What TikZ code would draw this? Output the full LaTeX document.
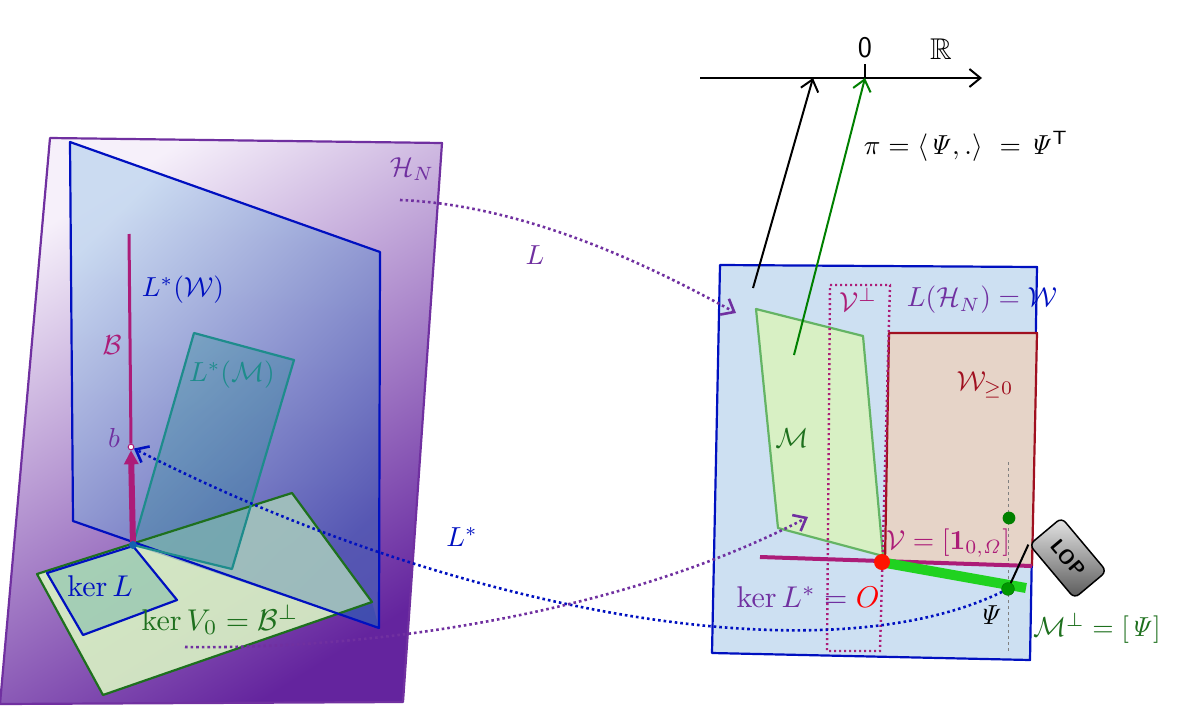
\documentclass[tikz,border=0pt]{standalone}
\usepackage{amssymb}
\usetikzlibrary{arrows.meta}
\definecolor{hpurple}{RGB}{112,48,160}
\definecolor{hlight}{RGB}{246,240,250}
\definecolor{hmid}{RGB}{206,184,224}
\definecolor{hdark}{RGB}{100,36,158}
\definecolor{wblue}{RGB}{0,16,192}
\definecolor{bmag}{RGB}{172,28,120}
\definecolor{mteal}{RGB}{30,140,140}
\definecolor{kgreen}{RGB}{30,112,30}
\definecolor{wred}{RGB}{160,16,32}
\definecolor{wfill}{RGB}{205,224,242}
\definecolor{wrfill}{RGB}{230,212,200}
\definecolor{mfill}{RGB}{216,240,196}
\definecolor{medge}{RGB}{100,180,100}
\definecolor{lopgreen}{RGB}{32,210,32}
\begin{document}
\begin{tikzpicture}[x=1pt,y=-1pt,>={Straight Barb[length=11pt,width=18pt]},
  lbl/.style={scale=2.75,inner sep=0.4pt},
  biglbl/.style={scale=3.0,inner sep=0.4pt},
  edge/.style={line width=2.2pt,line join=round},
  dotline/.style={line width=2.6pt,dash pattern=on 2.6pt off 3pt}]
\useasboundingbox (0,0) rectangle (1200,718);

% left: H_N and its subspaces
\shade[top color=hlight,middle color=hmid,bottom color=hdark,shading angle=32] (50,138) -- (442,143) -- (403,702) -- (0,704) -- cycle;
\draw[hpurple,edge] (50,138) -- (442,143) -- (403,702) -- (0,704) -- cycle;
\shade[top color={rgb,255:red,196;green,216;blue,240},bottom color={rgb,255:red,80;green,90;blue,180},shading angle=45,opacity=0.85]
  (70,142) -- (380,252) -- (379,628) -- (73,521) -- cycle;
\fill[mfill,opacity=0.92] (37,574) -- (292,493) -- (372,602) -- (103,695) -- cycle;
\fill[mteal,opacity=0.3] (194,333) -- (294,360) -- (232,569) -- (133,545) -- cycle;
\fill[wblue!60!mteal,opacity=0.25] (133,545) -- (292,493) -- (372,602) -- (379,628) -- cycle;
\draw[kgreen,edge] (37,574) -- (292,493) -- (372,602) -- (103,695) -- cycle;
\draw[wblue,edge] (70,142) -- (380,252) -- (379,628) -- (73,521) -- cycle;
\draw[mteal,edge] (194,333) -- (294,360) -- (232,569) -- (133,545) -- cycle;
\fill[mteal,opacity=0.25] (47,573) -- (133,546) -- (177,600) -- (83,635) -- cycle;
\draw[wblue,edge] (47,573) -- (133,546) -- (177,600) -- (83,635) -- cycle;

\coordinate (o) at (133,545);
\node[circle,draw=bmag,fill=white,inner sep=2pt,line width=1pt] (b) at (131,447) {};
\draw[bmag,line width=3pt] (129,234) -- (b.north);
\draw[bmag,line width=6pt,-{Triangle[length=14pt,width=14pt]}] (o) -- (b.south);
\fill[mteal!70!blue] (o) circle (4);

\node[lbl,text=hpurple] (hn) at (412,169) {$\mathcal{H}_N$};
\node[lbl,text=wblue] (lw) at (183,290) {$L^*(\mathcal{W})$};
\node[lbl,text=mteal] (lm) at (232,375) {$L^*(\mathcal{M})$};
\node[lbl,text=bmag] (bset) at (112,345) {$\mathcal{B}$};
\node[lbl,text=hpurple] (blbl) at (114,438) {$b$};
\node[biglbl,text=wblue] (kerl) at (100,586) {$\ker L$};
\node[biglbl,text=kgreen] (kerv) at (220,620) {$\ker V_0 = \mathcal{B}^\perp$};

% right: W = L(H_N)
\fill[wfill] (720,265) -- (1037,267) -- (1030,660) -- (712,653) -- cycle;
\draw[wblue,edge] (720,265) -- (1037,267) -- (1030,660) -- (712,653) -- cycle;
\fill[wrfill] (889,333) -- (1037,333) -- (1032,566) -- (885,562) -- cycle;
\draw[wred,edge] (885,562) -- (889,333) -- (1037,333) -- (1032,566);
\fill[mfill] (756,309) -- (863,336) -- (883,556) -- (778,528) -- cycle;
\draw[medge,edge] (756,309) -- (863,336) -- (883,556) -- (778,528) -- cycle;
\draw[bmag,line width=2.4pt,dash pattern=on 2pt off 3pt] (830,285) -- (890,285) -- (880,651) -- (827,651) -- cycle;
\draw[gray,dashed,line width=0.8pt] (1008,462) -- (1008,652);
\draw[bmag,line width=4pt] (760,557) -- (1032,566);
\draw[lopgreen,line width=10pt] (886,563) -- (1026,588);
\fill[red!85!orange] (882,562) circle (8);

\node[circle,fill=green!50!black,inner sep=4.5pt] (wdot) at (1009,518) {};
\node[circle,draw=green!40!black,fill=green!60!black,inner sep=4.5pt] (psi) at (1008,589) {};

\node[lbl,text=hpurple] (lhw) at (982,300) {$L(\mathcal{H}_N) = {\color{wblue}\mathcal{W}}$};
\node[lbl,text=bmag] (vperp) at (858,300) {$\mathcal{V}^\perp$};
\node[lbl,text=wred] (wpos) at (985,385) {$\mathcal{W}_{\geq 0}$};
\node[lbl,text=kgreen] (mset) at (792,438) {$\mathcal{M}$};
\node[lbl,text=bmag] (vset) at (948,543) {$\mathcal{V}= [\mathbf{1}_{0,\mathit{\Omega}}]$};
\node[biglbl,text=hpurple] (kerls) at (808,597) {$\ker L^* = {\color{red}O}$};
\node[lbl] (psil) at (990,615) {$\mathit{\Psi}$};
\node[lbl,text=kgreen] (mperp) at (1097,628) {$\mathcal{M}^\perp = [\mathit{\Psi}]$};

% LOP flag
\node[draw,line width=1.5pt,rounded corners=6pt,top color=gray!20,bottom color=gray!70!black,
  rotate=-50,minimum width=70pt,minimum height=42pt,font=\sffamily\bfseries\fontsize{20}{22}\selectfont] (lop) at (1068,558) {LOP};
\draw[line width=2pt] (psi) -- (lop.south west);

% the real line
\coordinate (ax0) at (700,78);
\coordinate (ax1) at (982,78);
\coordinate (tipb) at (813,78);
\coordinate (tipg) at (865,78);
\draw[->,line width=2pt] (ax0) -- (ax1);
\draw[line width=2pt] (tipg) -- (865,64);
\node[font=\sffamily\fontsize{30}{34}\selectfont,inner sep=1pt] (zero) at (865,48) {0};
\node[scale=3,inner sep=0.4pt] (rr) at (941,49) {$\mathbb{R}$};
\coordinate (bstart) at (753,288);
\coordinate (gstart) at (794,355);
\draw[->,line width=2pt] (bstart) -- (tipb);
\draw[->,green!50!black,line width=2pt] (gstart) -- (tipg);
\node[lbl] (pi) at (966,146) {$\pi = \left\langle \mathit{\Psi},. \right\rangle\ = \mathit{\Psi}^{\mathsf{T}}$};

% maps
\coordinate (lstart) at (400,200);
\coordinate (lend) at (736,313);
\draw[hpurple,dotline,->] (lstart) .. controls (520,205) and (640,260) .. (lend);
\node[lbl,text=hpurple] (llbl) at (535,255) {$L$};
\draw[wblue,dotline,->] (psi) .. controls (820,680) and (450,610) .. (b);
\node[lbl,text=wblue] (lslbl) at (462,537) {$L^*$};
\coordinate (kstart) at (185,647);
\coordinate (kend) at (808,517);
\draw[hpurple,dotline,->] (kstart) .. controls (400,650) and (640,605) .. (kend);
\end{tikzpicture}
\end{document}
